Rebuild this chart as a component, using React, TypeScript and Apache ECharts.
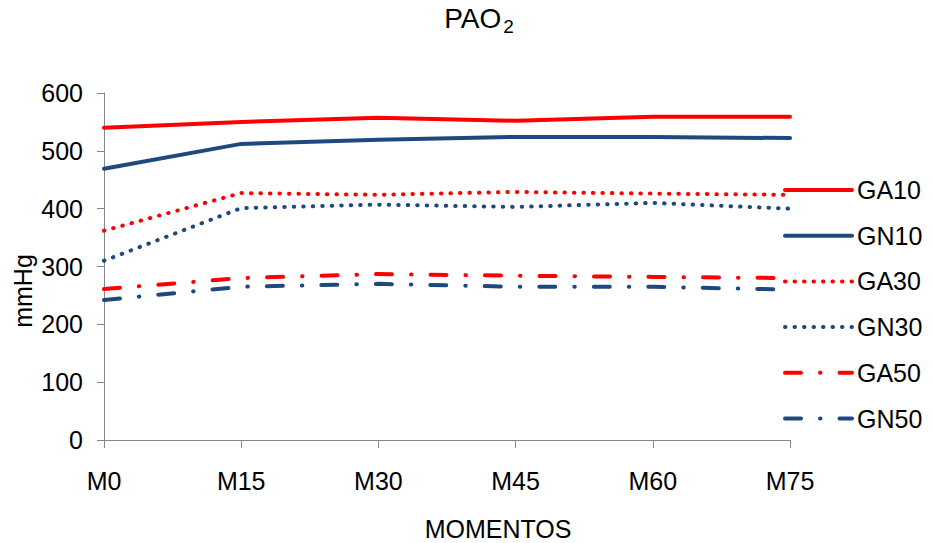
import React, { useEffect, useRef } from "react";
import * as echarts from "echarts";

const momentos = ["M0", "M15", "M30", "M45", "M60", "M75"];
const ga10 = [540, 550, 557, 552, 559, 559];
const gn10 = [469, 512, 519, 524, 524, 522];
const ga30 = [362, 427, 424, 429, 426, 424];
const gn30 = [310, 401, 407, 403, 410, 400];
const ga50 = [261, 280, 287, 284, 282, 280];
const gn50 = [242, 265, 270, 265, 265, 260];

const RED = "#ff0000";
const BLUE = "#1f497d";
const FONT = "Liberation Sans, Arial, sans-serif";

const dotted = [0.5, 9];
const dashDot = [16, 19, 0.5, 19];

function line(name: string, data: number[], color: string, type: any) {
  return {
    name,
    type: "line",
    data,
    symbol: "none",
    smooth: false,
    lineStyle: { color, width: 4, type, cap: "round" },
    itemStyle: { color },
  };
}

export default function App() {
  const ref = useRef<HTMLDivElement>(null);
  useEffect(() => {
    if (!ref.current) return;
    const chart = echarts.init(ref.current, null, { renderer: "svg" });
    chart.setOption({
      animation: false,
      backgroundColor: "#ffffff",
      textStyle: { fontFamily: FONT },
      title: {
        text: "{a|PAO}{b|2}",
        left: 474,
        top: -4,
        textAlign: "center",
        textStyle: {
          fontWeight: "normal",
          rich: {
            a: { fontSize: 28, color: "#000", fontFamily: FONT, fontWeight: "normal" },
            b: {
              fontSize: 19,
              color: "#000",
              fontFamily: FONT,
              fontWeight: "normal",
              padding: [16, 0, 0, 2],
            },
          },
        },
      },
      grid: { left: 104, right: 143, top: 93, bottom: 103 },
      legend: {
        orient: "vertical",
        left: 778,
        top: 172.5,
        itemWidth: 67,
        itemHeight: 14,
        itemGap: 20.7,
        itemStyle: { opacity: 0 },
        lineStyle: { width: 4, cap: "round" },
        textStyle: { fontSize: 25, color: "#000", fontFamily: FONT },
        data: ["GA10", "GN10", "GA30", "GN30", "GA50", "GN50"],
      },
      xAxis: {
        type: "category",
        data: momentos,
        boundaryGap: false,
        axisLine: { lineStyle: { color: "#868686", width: 1 } },
        axisTick: { show: true, alignWithLabel: true, length: 8, lineStyle: { color: "#868686" } },
        axisLabel: { fontSize: 25, color: "#000", margin: 28, fontFamily: FONT },
        splitLine: { show: false },
      },
      yAxis: {
        type: "value",
        min: 0,
        max: 600,
        interval: 100,
        axisLine: { show: true, lineStyle: { color: "#868686", width: 1 } },
        axisTick: { show: true, length: 7, lineStyle: { color: "#868686" } },
        axisLabel: { fontSize: 25, color: "#000", margin: 21, fontFamily: FONT },
        splitLine: { show: false },
      },
      graphic: [
        {
          type: "text",
          x: 498,
          y: 529,
          style: {
            text: "MOMENTOS",
            fontSize: 25,
            fill: "#000",
            fontFamily: FONT,
            textAlign: "center",
            textVerticalAlign: "middle",
          },
        },
        {
          type: "text",
          x: 23,
          y: 291,
          rotation: Math.PI / 2,
          style: {
            text: "mmHg",
            fontSize: 25,
            fill: "#000",
            fontFamily: FONT,
            textAlign: "center",
            textVerticalAlign: "middle",
          },
        },
      ],
      series: [
        line("GA10", ga10, RED, "solid"),
        line("GN10", gn10, BLUE, "solid"),
        line("GA30", ga30, RED, dotted),
        line("GN30", gn30, BLUE, dotted),
        line("GA50", ga50, RED, dashDot),
        line("GN50", gn50, BLUE, dashDot),
      ],
    });
    return () => chart.dispose();
  }, []);
  return (
    <div
      ref={ref}
      style={{ position: "fixed", left: 0, top: 0, width: 933, height: 543, background: "#fff" }}
    />
  );
}
